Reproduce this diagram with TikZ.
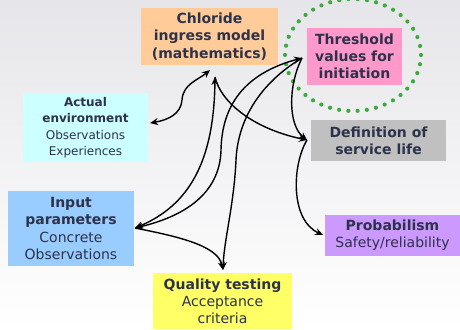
\documentclass[tikz,border=0pt]{standalone}
\usepackage{fontspec}
\setmainfont{DejaVu Sans}
\usetikzlibrary{arrows.meta}
\definecolor{txt}{RGB}{45,50,75}
\definecolor{cOrange}{RGB}{255,204,153}
\definecolor{cPink}{RGB}{255,153,204}
\definecolor{cCyan}{RGB}{204,255,255}
\definecolor{cGray}{RGB}{192,192,192}
\definecolor{cBlue}{RGB}{153,204,255}
\definecolor{cPurple}{RGB}{204,153,255}
\definecolor{cYellow}{RGB}{255,255,102}
\definecolor{cGreen}{RGB}{60,170,60}
\definecolor{bgTop}{RGB}{230,230,234}
\begin{document}
\begin{tikzpicture}[x=1pt,y=-1pt,
  box/.style={inner sep=0pt, align=center, text=txt, font=\fontsize{14}{17.2}\selectfont},
  link/.style={line width=1.4pt, black, -{Stealth[length=8pt,width=7pt]}},
  linkb/.style={line width=1.4pt, black, {Stealth[length=8pt,width=7pt]}-{Stealth[length=8pt,width=7pt]}},
  dots/.style={cGreen, line width=4.2pt, line cap=round, dash pattern=on 0pt off 9.3pt}]
\useasboundingbox (0,0) rectangle (460,329);
\shade[top color=bgTop, bottom color=white] (0,0) rectangle (460,329);

\draw[dots] (353,55) ellipse [x radius=68, y radius=56];

\node[box, fill=cOrange, minimum width=137pt, minimum height=57pt] (chl) at (209.5,36.5)
  {\bfseries Chloride\\ \bfseries ingress model\\ \bfseries (mathematics)};
\node[box, fill=cPink, minimum width=95pt, minimum height=57pt] (thr) at (354.5,56.5)
  {\bfseries Threshold\\ \bfseries values for\\ \bfseries initiation};
\node[box, fill=cCyan, minimum width=125pt, minimum height=69pt, font=\fontsize{12}{16.5}\selectfont] (env) at (85.5,127.5)
  {\bfseries Actual\\ \bfseries environment\\ Observations\\ Experiences};
\node[box, fill=cGray, minimum width=135pt, minimum height=41pt] (def) at (378.5,140.5)
  {\bfseries Definition of\\ \bfseries service life};
\node[box, fill=cBlue, minimum width=126pt, minimum height=75pt] (inp) at (71,228.5)
  {\bfseries Input\\ \bfseries parameters\\ Concrete\\ Observations};
\node[box, fill=cPurple, minimum width=135pt, minimum height=41pt] (prob) at (392.5,235.5)
  {\bfseries Probabilism\\ Safety/reliability};
\node[box, fill=cYellow, minimum width=139pt, minimum height=56pt] (qual) at (222.5,301)
  {\bfseries Quality testing\\ Acceptance\\ criteria};

\coordinate (chlA) at (210,70);
\coordinate (chlB) at (215,77);
\coordinate (envT) at (150,123);
\coordinate (thrT) at (302,58);
\coordinate (defT) at (307,140);
\coordinate (inpT) at (135,228);
\coordinate (qualT) at (223,270);
\coordinate (probT) at (323,235);

\draw[linkb] (envT) .. controls (168,120) and (181,114) .. (182,100) .. controls (183,84) and (198,80) .. (chlA);
\draw[link] (chlB) .. controls (220,100) and (250,128) .. (defT);
\draw[linkb] (inpT) .. controls (190,205) and (214,160) .. (chlB);
\draw[linkb] (inpT) .. controls (190,215) and (220,190) .. (221,150) .. controls (222,100) and (250,72) .. (thrT);
\draw[link] (thrT) .. controls (265,80) and (238,115) .. (236,160) .. controls (234,205) and (224,240) .. (qualT);
\draw[link] (inpT) .. controls (175,236) and (218,245) .. (qualT);
\draw[link] (thrT) .. controls (288,85) and (288,125) .. (defT);
\draw[link] (defT) .. controls (292,165) and (290,220) .. (probT);
\end{tikzpicture}
\end{document}
